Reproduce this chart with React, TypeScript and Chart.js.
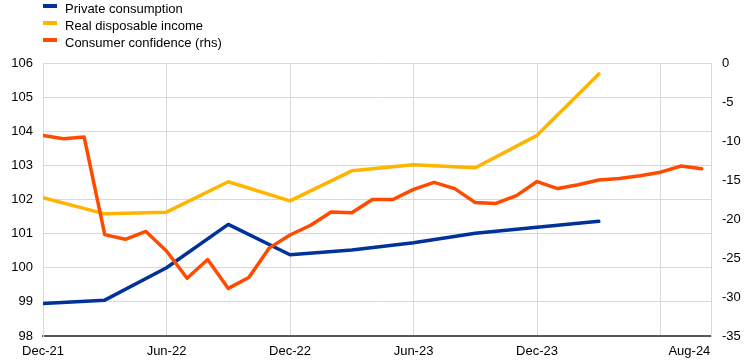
import React, { useEffect, useRef } from 'react';
import { Chart, registerables } from 'chart.js';

Chart.register(...registerables);

// Monthly categories
const months = [
  'Dec-21', 'Jan-22', 'Feb-22', 'Mar-22', 'Apr-22', 'May-22', 'Jun-22', 'Jul-22', 'Aug-22', 'Sep-22', 'Oct-22', 'Nov-22',
  'Dec-22', 'Jan-23', 'Feb-23', 'Mar-23', 'Apr-23', 'May-23', 'Jun-23', 'Jul-23', 'Aug-23', 'Sep-23', 'Oct-23', 'Nov-23',
  'Dec-23', 'Jan-24', 'Feb-24', 'Mar-24', 'Apr-24', 'May-24', 'Jun-24', 'Jul-24', 'Aug-24',
];

// Quarterly observations
const quarters = ['Dec-21', 'Mar-22', 'Jun-22', 'Sep-22', 'Dec-22', 'Mar-23', 'Jun-23', 'Sep-23', 'Dec-23', 'Mar-24'];
const privateConsumption = [98.95, 99.05, 100.0, 101.27, 100.38, 100.52, 100.73, 101.01, 101.19, 101.36];
const realDisposableIncome = [102.05, 101.58, 101.63, 102.52, 101.96, 102.84, 103.02, 102.93, 103.88, 105.68];

// Monthly consumer confidence (rhs)
const consumerConfidence = [
  -9.3, -9.7, -9.5, -22.0, -22.6, -21.6, -24.1, -27.6, -25.2, -28.9, -27.5, -23.7,
  -22.05, -20.8, -19.1, -19.2, -17.5, -17.5, -16.2, -15.3, -16.1, -17.9, -18.0, -17.0,
  -15.2, -16.1, -15.6, -15.0, -14.8, -14.45, -14.0, -13.2, -13.55,
];

const xGridMonths = ['Dec-21', 'Jun-22', 'Dec-22', 'Jun-23', 'Dec-23', 'Jun-24'];
const xTickLabels = ['Dec-21', 'Jun-22', 'Dec-22', 'Jun-23', 'Dec-23', ''];
const lastTickLabel = 'Aug-24';

const seriesNames = ['Private consumption', 'Real disposable income', 'Consumer confidence (rhs)'];
const seriesColors = ['#003299', '#FFB400', '#FF4B00'];

const FONT = '"Liberation Sans", Arial, sans-serif';
const X_MAX = 32.45;
const LAST_LABEL_POS = 31.4;

export default function App() {
  const canvasRef = useRef<HTMLCanvasElement | null>(null);

  useEffect(() => {
    if (!canvasRef.current) return;
    const qData = (vals: number[]) => quarters.map((q, i) => ({ x: months.indexOf(q), y: vals[i] }));
    const mData = consumerConfidence.map((v, i) => ({ x: i, y: v }));

    const chart = new Chart(canvasRef.current, {
      type: 'line',
      data: {
        datasets: [
          {
            label: seriesNames[0],
            data: qData(privateConsumption),
            borderColor: seriesColors[0],
            backgroundColor: seriesColors[0],
            yAxisID: 'y',
            order: 2,
          },
          {
            label: seriesNames[1],
            data: qData(realDisposableIncome),
            borderColor: seriesColors[1],
            backgroundColor: seriesColors[1],
            yAxisID: 'y',
            order: 1,
          },
          {
            label: seriesNames[2],
            data: mData,
            borderColor: seriesColors[2],
            backgroundColor: seriesColors[2],
            yAxisID: 'y1',
            order: 0,
          },
        ],
      },
      options: {
        animation: false,
        responsive: true,
        maintainAspectRatio: false,
        parsing: false as any,
        elements: {
          line: { borderWidth: 3.5, tension: 0, borderJoinStyle: 'round', borderCapStyle: 'round' },
          point: { radius: 0, hoverRadius: 0 },
        },
        layout: { padding: { top: 63, left: 0, right: 0, bottom: 0 } },
        plugins: { legend: { display: false }, tooltip: { enabled: false } },
        scales: {
          x: {
            type: 'linear',
            min: 0,
            max: X_MAX,
            afterBuildTicks: (scale: any) => {
              const t = xGridMonths.map((m) => ({ value: months.indexOf(m) }));
              t.push({ value: LAST_LABEL_POS });
              scale.ticks = t;
            },
            afterFit: (scale: any) => {
              scale.height = 26;
            },
            grid: {
              color: (ctx: any) => (ctx.tick && ctx.tick.value === LAST_LABEL_POS ? 'rgba(0,0,0,0)' : '#d9d9d9'),
              lineWidth: 1,
              drawTicks: false,
            },
            border: { color: '#595959', width: 2 },
            ticks: {
              padding: 8,
              maxRotation: 0,
              autoSkip: false,
              color: '#000',
              font: { family: FONT, size: 13 },
              callback: (value: any) => {
                if (value === LAST_LABEL_POS) return lastTickLabel;
                const idx = xGridMonths.findIndex((m) => months.indexOf(m) === value);
                return idx >= 0 ? xTickLabels[idx] : '';
              },
            },
          },
          y: {
            position: 'left',
            min: 98,
            max: 106,
            afterFit: (scale: any) => {
              scale.width = 43;
            },
            grid: { color: '#d9d9d9', lineWidth: 1, drawTicks: false },
            border: { color: '#d9d9d9', width: 1 },
            ticks: { stepSize: 1, padding: 10, color: '#000', font: { family: FONT, size: 13 } },
          },
          y1: {
            position: 'right',
            min: -35,
            max: 0,
            afterFit: (scale: any) => {
              scale.width = 33;
            },
            grid: { drawOnChartArea: false, drawTicks: false },
            border: { color: '#d9d9d9', width: 1 },
            ticks: { stepSize: 5, padding: 11, color: '#000', font: { family: FONT, size: 13 } },
          },
        },
      },
    });
    return () => chart.destroy();
  }, []);

  return (
    <div style={{ position: 'fixed', left: 0, top: 0, width: 744, height: 362, background: '#fff' }}>
      <canvas ref={canvasRef} />
      <div style={{ position: 'absolute', left: 0, top: 0, fontFamily: FONT, fontSize: 13, color: '#000' }}>
        {seriesNames.map((name, i) => (
          <div key={name} style={{ position: 'absolute', top: i * 17, left: 0, height: 17, width: 300 }}>
            <span
              style={{
                position: 'absolute',
                left: 43,
                top: 4,
                width: 14,
                height: 3.5,
                background: seriesColors[i],
              }}
            />
            <span style={{ position: 'absolute', left: 65, top: 0, lineHeight: '17px', whiteSpace: 'nowrap' }}>
              {name}
            </span>
          </div>
        ))}
      </div>
    </div>
  );
}
